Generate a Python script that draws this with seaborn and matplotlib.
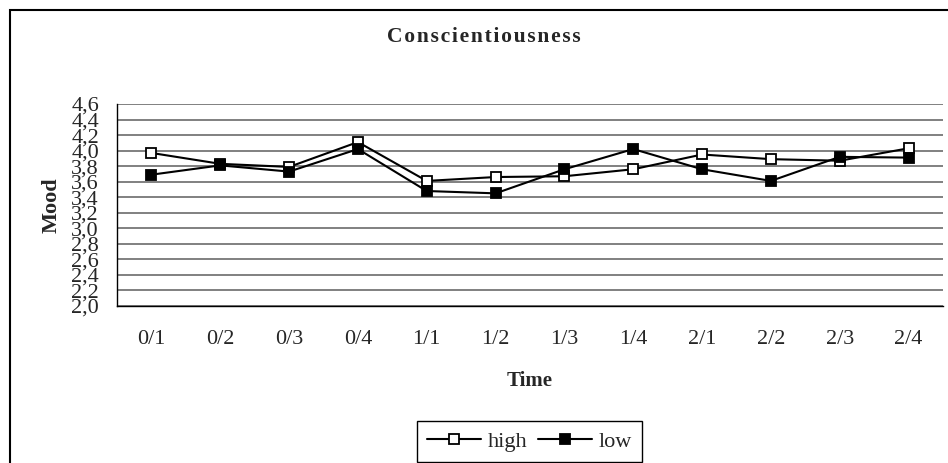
import matplotlib
matplotlib.use("Agg")
import matplotlib.pyplot as plt
import matplotlib.ticker as mticker
from matplotlib.patches import Rectangle
import seaborn as sns
import pandas as pd
import numpy as np

times = ["0/1", "0/2", "0/3", "0/4", "1/1", "1/2", "1/3", "1/4", "2/1", "2/2", "2/3", "2/4"]
high = [3.97, 3.83, 3.79, 4.11, 3.61, 3.66, 3.67, 3.76, 3.95, 3.89, 3.87, 4.03]
low = [3.69, 3.81, 3.73, 4.02, 3.48, 3.45, 3.76, 4.02, 3.76, 3.61, 3.92, 3.91]
yticks = [2.0, 2.2, 2.4, 2.6, 2.8, 3.0, 3.2, 3.4, 3.6, 3.8, 4.0, 4.2, 4.4, 4.6]

df = pd.DataFrame({
    "Time": times * 2,
    "Mood": high + low,
    "group": ["high"] * len(times) + ["low"] * len(times),
})

sns.set_theme(style="white")
plt.rcParams["font.family"] = ["Liberation Serif", "DejaVu Serif"]

fig = plt.figure(figsize=(9.48, 4.63), dpi=100)
ax = fig.add_axes([117 / 948, 1 - 306 / 463, (943 - 117) / 948, (306 - 104) / 463])

face = {"high": "white", "low": "black"}
for g in ["high", "low"]:
    sub = df[df["group"] == g]
    sns.lineplot(data=sub, x="Time", y="Mood", ax=ax, color="black", lw=1.5,
                 marker="s", markersize=7.5, markerfacecolor=face[g],
                 markeredgecolor="black", markeredgewidth=1.3, label=g, zorder=3)

ax.set_xlim(-0.5, len(times) - 0.5)
ax.set_ylim(2.0, 4.6)
ax.set_yticks(yticks)
ax.yaxis.set_major_formatter(mticker.FuncFormatter(lambda v, p: f"{v:.1f}".replace(".", ",")))
ax.set_xticks(range(len(times)))
ax.set_xticklabels(times)
ax.set_xticks(np.arange(-0.5, len(times), 1.0), minor=True)
ax.tick_params(axis="x", which="major", length=0, pad=17, labelsize=16)
ax.tick_params(axis="x", which="minor", length=5, width=1, color="black", direction="out")
ax.tick_params(axis="y", which="major", length=5, width=1, color="black", direction="out",
               labelsize=16, pad=8)
ax.tick_params(axis="y", which="minor", length=0)

ax.grid(axis="y", color="#808080", lw=1.4)
ax.grid(axis="x", visible=False)
for s in ["top", "right"]:
    ax.spines[s].set_visible(False)
for s in ["left", "bottom"]:
    ax.spines[s].set_color("black")
    ax.spines[s].set_linewidth(1.0)

ax.set_xlabel("Time", fontsize=15, fontweight="bold", labelpad=16)
ax.set_ylabel("Mood", fontsize=16, fontweight="bold", labelpad=7)

fig.text(484 / 948, 1 - 37 / 463, "\u200a".join("Conscientiousness"),
         ha="center", va="center", fontsize=15.5, fontweight="bold")

if ax.legend_:
    ax.legend_.remove()
handles, labels = ax.get_legend_handles_labels()
leg = fig.legend(handles, labels, loc="lower center", bbox_to_anchor=(529.5 / 948, 1 / 463),
                 ncol=2, frameon=True, fancybox=False, edgecolor="black", framealpha=1,
                 fontsize=16, handlelength=2.4, handletextpad=0.3, columnspacing=0.5,
                 borderpad=0.45, borderaxespad=0)
leg.get_frame().set_linewidth(1.0)

fig.patches.append(Rectangle((10 / 948, -0.1), 1.2, 1 - 10 / 463 + 0.1, transform=fig.transFigure,
                             fill=False, edgecolor="black", lw=1.5, zorder=0))

fig.savefig("out.png", dpi=100)
